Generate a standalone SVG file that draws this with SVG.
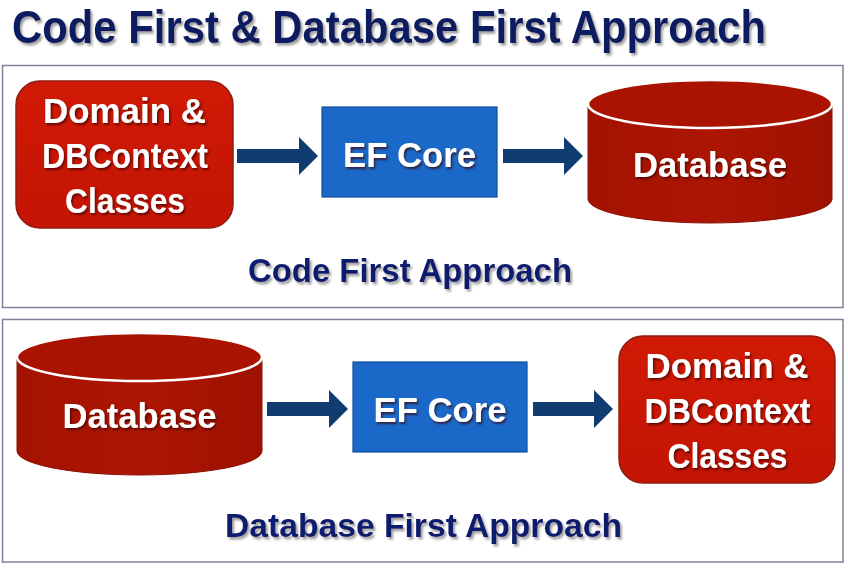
<svg xmlns="http://www.w3.org/2000/svg" width="848" height="569" viewBox="0 0 848 569">
  <style>
    .panel { fill: #ffffff; stroke: #7d8396; stroke-width: 1.5; }
    .title { font-family: "Liberation Sans", Arial, sans-serif; font-weight: bold; fill: #0e1f60; }
    .cap { font-family: "Liberation Sans", Arial, sans-serif; font-weight: bold; fill: #101b6e; text-anchor: middle; }
    .lbl { font-family: "Liberation Sans", Arial, sans-serif; font-weight: bold; fill: #ffffff; text-anchor: middle; font-size: 35px; }
    .redbox { fill: url(#gRed); stroke: #8e1c12; stroke-width: 1.5; }
    .bluebox { fill: #1a68c8; stroke: #0f4e9c; stroke-width: 1.2; }
    .cylbody { fill: url(#gCyl); stroke: #8a1208; stroke-width: 1; }
    .cyltop { fill: #a91300; stroke: #ffffff; stroke-width: 2.5; }
    .arrow { fill: #113c6f; }
  </style>
  <defs>
    <linearGradient id="gRed" x1="0" y1="0" x2="0" y2="1">
      <stop offset="0" stop-color="#d01a05"/>
      <stop offset="1" stop-color="#c41404"/>
    </linearGradient>
    <linearGradient id="gCyl" x1="0" y1="0" x2="1" y2="0">
      <stop offset="0" stop-color="#a31200"/>
      <stop offset="0.5" stop-color="#ad1503"/>
      <stop offset="1" stop-color="#9e1100"/>
    </linearGradient>
    <filter id="shW" x="-10%" y="-20%" width="130%" height="150%">
      <feDropShadow dx="1.5" dy="2" stdDeviation="1.2" flood-color="#3a0000" flood-opacity="0.7"/>
    </filter>
    <filter id="shN" x="-10%" y="-20%" width="130%" height="150%">
      <feDropShadow dx="2" dy="2.5" stdDeviation="1.2" flood-color="#777777" flood-opacity="0.7"/>
    </filter>
  </defs>

  <rect width="848" height="569" fill="#ffffff"/>

  <text class="title" x="12" y="43" font-size="46" textLength="754" lengthAdjust="spacingAndGlyphs" filter="url(#shN)">Code First &amp; Database First Approach</text>

  <g id="panel-code-first">
    <rect class="panel" x="2.5" y="65.5" width="840.5" height="242"/>
    <text class="cap" x="410" y="282" font-size="33" textLength="324" lengthAdjust="spacingAndGlyphs" filter="url(#shN)">Code First Approach</text>
  </g>
  <g id="panel-database-first">
    <rect class="panel" x="2.5" y="319.5" width="840.5" height="242.5"/>
    <text class="cap" x="423.5" y="537" font-size="34" textLength="397" lengthAdjust="spacingAndGlyphs" filter="url(#shN)">Database First Approach</text>
  </g>

  <g id="cf-classes">
    <rect class="redbox" x="16" y="81" width="217" height="147" rx="24"/>
    <g filter="url(#shW)">
      <text class="lbl" x="124.5" y="123" textLength="163" lengthAdjust="spacingAndGlyphs">Domain &amp;</text>
      <text class="lbl" x="125" y="168" textLength="166" lengthAdjust="spacingAndGlyphs">DBContext</text>
      <text class="lbl" x="125" y="213" textLength="120" lengthAdjust="spacingAndGlyphs">Classes</text>
    </g>
  </g>
  <g id="cf-efcore">
    <rect class="bluebox" x="322" y="107" width="175" height="90"/>
    <text class="lbl" x="409.5" y="167" font-size="36" textLength="133" lengthAdjust="spacingAndGlyphs" filter="url(#shW)">EF Core</text>
  </g>
  <g id="cf-database">
    <path class="cylbody" d="M588,104 L588,199 A122,24 0 0 0 832,199 L832,104 Z"/>
    <ellipse class="cyltop" cx="710" cy="104" rx="122" ry="24"/>
    <text class="lbl" x="710" y="177" textLength="154" lengthAdjust="spacingAndGlyphs" filter="url(#shW)">Database</text>
  </g>

  <g id="df-database">
    <path class="cylbody" d="M17,357 L17,451 A122.5,24 0 0 0 262,451 L262,357 Z"/>
    <ellipse class="cyltop" cx="139.5" cy="357" rx="122.5" ry="24"/>
    <text class="lbl" x="139.5" y="428" textLength="154" lengthAdjust="spacingAndGlyphs" filter="url(#shW)">Database</text>
  </g>
  <g id="df-efcore">
    <rect class="bluebox" x="353" y="362" width="174" height="90"/>
    <text class="lbl" x="440" y="422" font-size="36" textLength="133" lengthAdjust="spacingAndGlyphs" filter="url(#shW)">EF Core</text>
  </g>
  <g id="df-classes">
    <rect class="redbox" x="619" y="336" width="216" height="147" rx="24"/>
    <g filter="url(#shW)">
      <text class="lbl" x="727" y="378" textLength="163" lengthAdjust="spacingAndGlyphs">Domain &amp;</text>
      <text class="lbl" x="727.5" y="423" textLength="166" lengthAdjust="spacingAndGlyphs">DBContext</text>
      <text class="lbl" x="727.5" y="468" textLength="120" lengthAdjust="spacingAndGlyphs">Classes</text>
    </g>
  </g>

  <g id="connectors">
    <polygon class="arrow" points="237,149 299,149 299,137 318,156 299,175 299,163 237,163"/>
    <polygon class="arrow" points="503,149 564,149 564,137 583,156 564,175 564,163 503,163"/>
    <polygon class="arrow" points="267,402 329,402 329,390 348,409 329,428 329,416 267,416"/>
    <polygon class="arrow" points="533,402 594,402 594,390 613,409 594,428 594,416 533,416"/>
  </g>
</svg>
